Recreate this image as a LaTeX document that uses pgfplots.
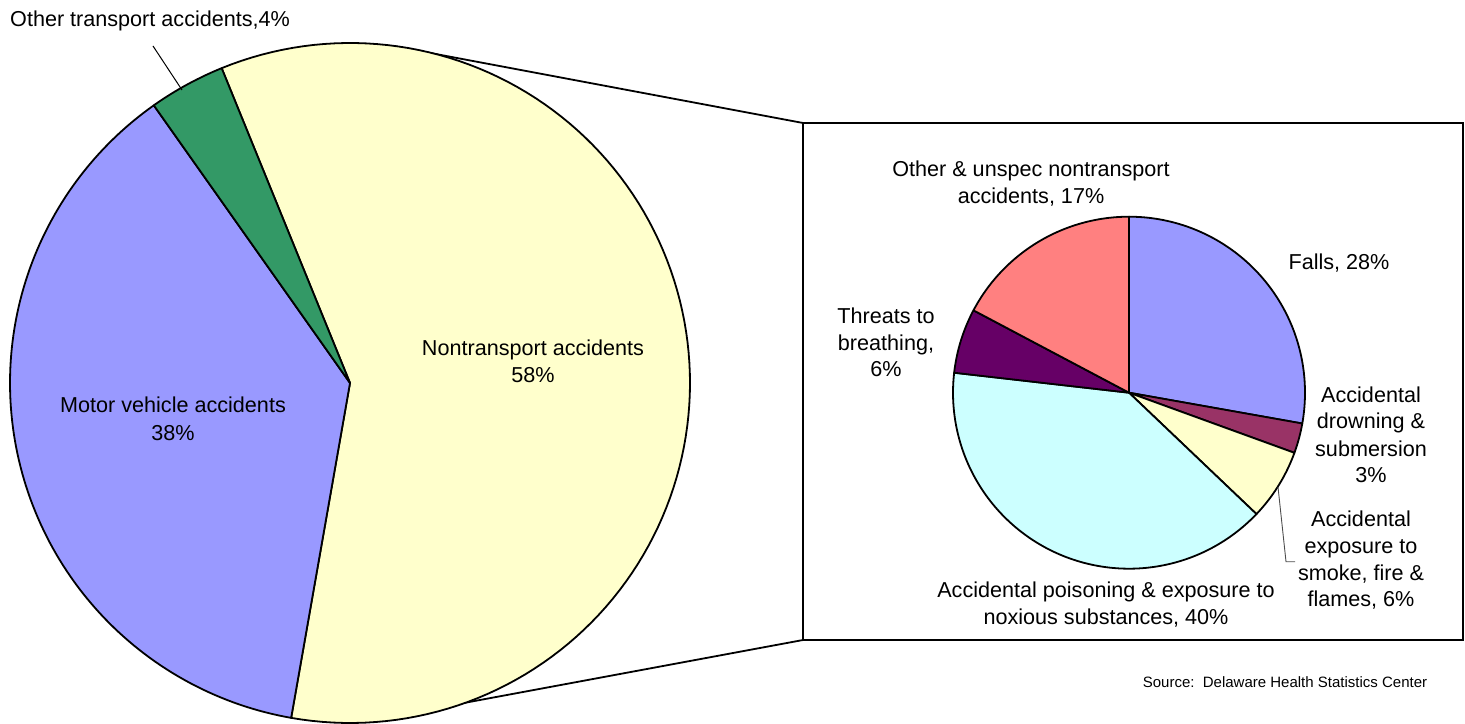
\documentclass[border=0pt]{standalone}
\usepackage{pgfplots}
\pgfplotsset{compat=1.18}
\usepackage{fontspec}
\setmainfont{Liberation Sans}

\definecolor{cblue}{HTML}{9999FF}
\definecolor{cgreen}{HTML}{339966}
\definecolor{cyellow}{HTML}{FFFFCC}
\definecolor{cplum}{HTML}{993366}
\definecolor{ccyan}{HTML}{CCFFFF}
\definecolor{cpurple}{HTML}{660066}
\definecolor{csalmon}{HTML}{FF8080}

% slice: cx, cy, r, value (percent), colour ; drawn clockwise from \cur
\newcommand{\slice}[5]{%
  \pgfmathsetmacro{\endang}{\cur-(#4)*3.6}%
  \edef\doslice{\noexpand\addplot[fill=#5, draw=black, line width=1.8bp, line join=round, domain=\endang:\cur, samples=120, variable=\noexpand\t] ({#1+#3*cos(\noexpand\t)},{#2+#3*sin(\noexpand\t)}) -- (axis cs:#1,#2) -- cycle;}%
  \doslice
  \global\let\cur\endang
}
\newcommand{\lbl}[3]{\node[anchor=base, inner sep=0pt, font=\fontsize{21.6bp}{27bp}\selectfont] at (axis cs:#1,{723-#2}) {#3};}

\begin{document}
\begin{tikzpicture}
\begin{axis}[hide axis, scale only axis, width=1465bp, height=723bp,
  xmin=0, xmax=1465, ymin=0, ymax=723, clip=false]
\addplot[draw=none] coordinates {(0,0) (1465,723)};

% connector lines
\addplot[black, line width=1.8bp] coordinates {(393,677) (803,600)};
\addplot[black, line width=1.8bp] coordinates {(383,5) (803,83)};
% box
\addplot[black, line width=1.8bp] coordinates {(803,600) (1463,600) (1463,83) (803,83) (803,600)};

% main pie (centre 350,340 ; r 340)
\gdef\cur{112.18}
\slice{350}{340}{340}{58.93}{cyellow}
\slice{350}{340}{340}{37.44}{cblue}
\slice{350}{340}{340}{3.63}{cgreen}

% secondary pie (centre 1129,330.3 ; r 176)
\gdef\cur{90}
\slice{1129}{330.3}{176}{27.80}{cblue}
\slice{1129}{330.3}{176}{2.75}{cplum}
\slice{1129}{330.3}{176}{6.56}{cyellow}
\slice{1129}{330.3}{176}{39.70}{ccyan}
\slice{1129}{330.3}{176}{5.94}{cpurple}
\slice{1129}{330.3}{176}{17.25}{csalmon}

% leader lines
\addplot[black, line width=1bp] coordinates {(153,677) (182,633)};
\addplot[black!70, line width=0.9bp] coordinates {(1278,236) (1286,161.3) (1295,161.3)};

% labels
\node[anchor=base west, inner sep=0pt, font=\fontsize{21.6bp}{27bp}\selectfont] at (axis cs:10,{723-27}) {Other transport accidents,4\%};
\lbl{533}{356}{Nontransport accidents}
\lbl{533}{383}{58\%}
\lbl{173}{413}{Motor vehicle accidents}
\lbl{173}{440}{38\%}

\lbl{1031}{177}{Other \& unspec nontransport}
\lbl{1031}{204}{accidents, 17\%}
\lbl{1339}{270}{Falls, 28\%}
\lbl{886}{324}{Threats to}
\lbl{886}{350.5}{breathing,}
\lbl{886}{377}{6\%}
\lbl{1371}{402.7}{Accidental}
\lbl{1371}{429}{drowning \&}
\lbl{1371}{456}{submersion}
\lbl{1371}{482}{3\%}
\lbl{1361}{526.7}{Accidental}
\lbl{1361}{553.3}{exposure to}
\lbl{1361}{580}{smoke, fire \&}
\lbl{1361}{606.7}{flames, 6\%}
\lbl{1106}{597}{Accidental poisoning \& exposure to}
\lbl{1106}{624}{noxious substances, 40\%}

\node[anchor=base, inner sep=0pt, font=\fontsize{15bp}{18bp}\selectfont] at (axis cs:1285,{723-687}) {Source:\ \ Delaware Health Statistics Center};
\end{axis}
\pgfresetboundingbox
\path (current axis.south west) rectangle (current axis.north east);
\end{tikzpicture}
\end{document}
